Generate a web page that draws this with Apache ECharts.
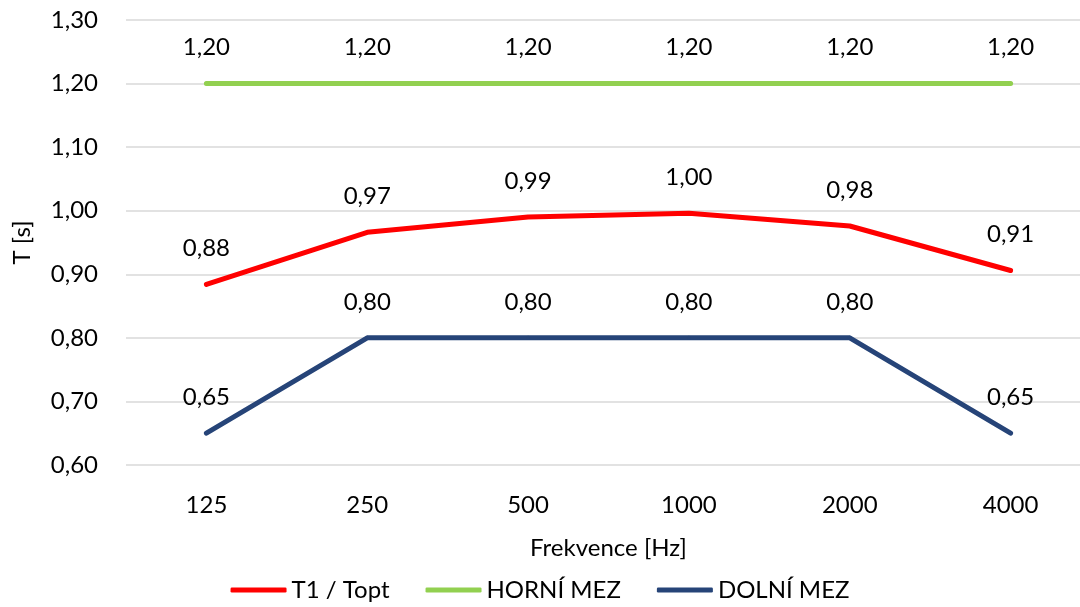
<!DOCTYPE html>
<html>
<head>
<meta charset="utf-8">
<script src="https://cdn.jsdelivr.net/npm/echarts@6/dist/echarts.min.js"></script>
<style>html,body{margin:0;padding:0;background:#fff}#c{width:1080px;height:607px}</style>
</head>
<body>
<div id="c"></div>
<script>
const categories = ['125', '250', '500', '1000', '2000', '4000'];
const t1Topt = [0.884, 0.966, 0.99, 0.996, 0.976, 0.906];
const horniMez = [1.2, 1.2, 1.2, 1.2, 1.2, 1.2];
const dolniMez = [0.65, 0.8, 0.8, 0.8, 0.8, 0.65];
const seriesNames = ['T1 / Topt', 'HORNÍ MEZ', 'DOLNÍ MEZ'];
const colors = ['#ff0000', '#92d050', '#264478'];

const fmt = v => v.toFixed(2).replace('.', ',');
const FONT = 'Lato, "Open Sans", sans-serif';

function mk(name, data, color) {
  return {
    name: name,
    type: 'line',
    data: data,
    symbol: 'circle',
    symbolSize: 4,
    showSymbol: true,
    itemStyle: { color: color },
    lineStyle: { color: color, width: 5, cap: 'round', join: 'round' },
    label: {
      show: true, position: 'top', distance: 22,
      color: '#000', fontSize: 24, fontFamily: FONT,
      formatter: p => fmt(p.value)
    },
    emphasis: { disabled: true }
  };
}

const chart = echarts.init(document.getElementById('c'));
chart.setOption({
  animation: false,
  color: colors,
  grid: { left: 126, width: 965, top: 20, bottom: 142, containLabel: false, outerBoundsMode: 'none' },
  legend: {
    bottom: 0, left: 'center',
    data: seriesNames.map((n, i) => ({ name: n, icon: 'roundRect', itemStyle: { color: colors[i] } })),
    itemWidth: 56, itemHeight: 5, itemGap: 36,
    textStyle: { fontSize: 24, fontFamily: FONT, color: '#000' }
  },
  xAxis: {
    type: 'category',
    data: categories,
    boundaryGap: true,
    name: 'Frekvence [Hz]',
    nameLocation: 'middle',
    nameGap: 71,
    nameTextStyle: { fontSize: 24, fontFamily: FONT, color: '#000', verticalAlign: 'top' },
    axisLine: { show: false },
    axisTick: { show: false },
    axisLabel: { fontSize: 24, fontFamily: FONT, color: '#000', margin: 28 }
  },
  yAxis: {
    type: 'value',
    min: 0.6, max: 1.3, interval: 0.1,
    name: 'T [s]',
    nameLocation: 'middle',
    nameRotate: 90,
    nameGap: 92,
    nameTextStyle: { fontSize: 24, fontFamily: FONT, color: '#000' },
    axisLine: { show: false },
    axisTick: { show: false },
    splitLine: { lineStyle: { color: '#d9d9d9', width: 1.5 } },
    axisLabel: { fontSize: 24, fontFamily: FONT, color: '#000', margin: 28, formatter: v => fmt(v) }
  },
  series: [
    mk(seriesNames[0], t1Topt, colors[0]),
    mk(seriesNames[1], horniMez, colors[1]),
    mk(seriesNames[2], dolniMez, colors[2])
  ]
});
</script>
</body>
</html>
